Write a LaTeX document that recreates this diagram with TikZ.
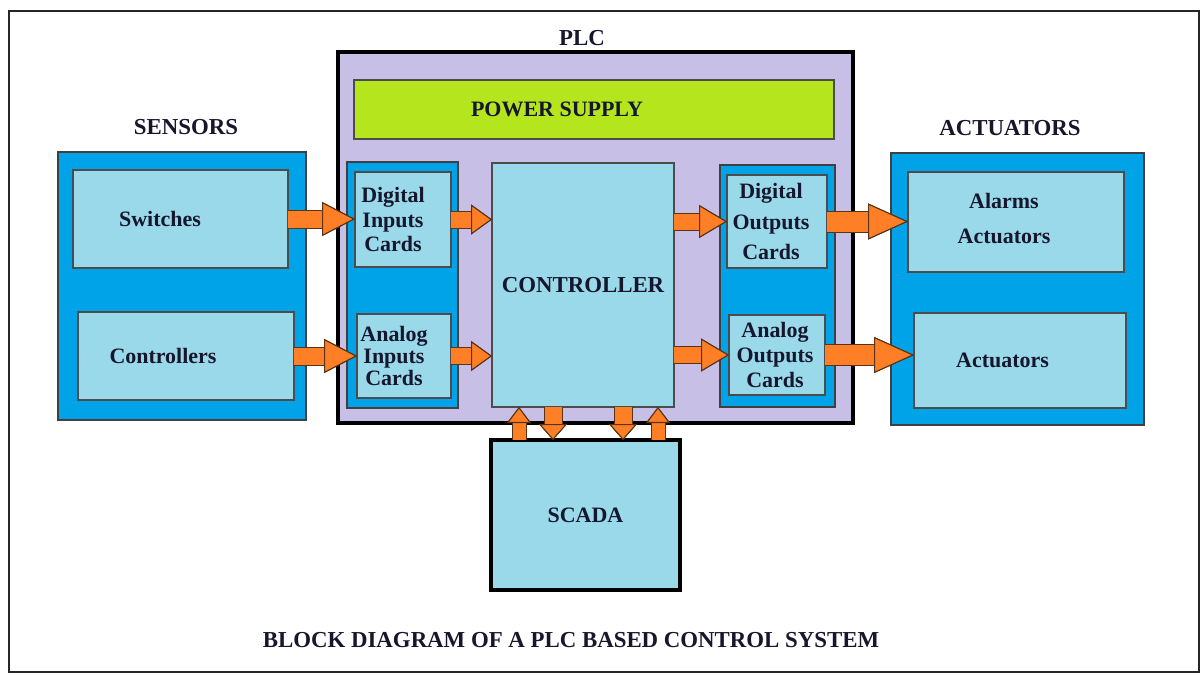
\documentclass[tikz,border=0pt]{standalone}
\usepackage{fontspec}
\setmainfont{Liberation Serif}
\usetikzlibrary{arrows.meta, positioning}

\definecolor{plclav}{RGB}{200,191,231}
\definecolor{grpblue}{RGB}{0,162,232}
\definecolor{cardblue}{RGB}{153,217,234}
\definecolor{psgreen}{RGB}{181,230,29}
\definecolor{arrorange}{RGB}{255,127,39}
\definecolor{arredge}{RGB}{90,50,20}
\definecolor{inkcol}{RGB}{22,22,45}

\tikzset{
        box/.style = {rectangle, anchor=north west, inner sep=0pt, outer sep=0pt},
        group/.style = {box, draw=black!75, fill=grpblue, line width=0.6pt},
        card/.style = {box, draw=black!70, fill=cardblue, line width=0.9pt},
        txt/.style = {font=\bfseries\fontsize{12.5}{14}\selectfont, text=inkcol, align=center},
        title/.style = {font=\bfseries\fontsize{13}{15}\selectfont, text=inkcol},
        blockarrow/.style n args = {4}{draw=arrorange, line width=#1,
            -{Triangle[length=#3, width=#4, line width=0.6pt, fill=arrorange, color=arredge]},
            preaction={draw=arredge, line width=#2,
                -{Triangle[length=#3, width=#4, line width=0.6pt, fill=arrorange, color=arredge]}}},
        inarrow/.style = {blockarrow={0.34cm}{0.38cm}{0.66cm}{0.68cm}},
        cardarrow/.style = {blockarrow={0.32cm}{0.36cm}{0.42cm}{0.6cm}},
        ctrlarrow/.style = {blockarrow={0.32cm}{0.36cm}{0.56cm}{0.66cm}},
        outarrow/.style = {blockarrow={0.4cm}{0.44cm}{0.8cm}{0.72cm}},
        uparrow/.style = {blockarrow={0.26cm}{0.3cm}{0.32cm}{0.48cm}},
        downarrow/.style = {blockarrow={0.34cm}{0.38cm}{0.32cm}{0.56cm}},
}

\begin{document}
\begin{tikzpicture}
\useasboundingbox (0,0) rectangle (24.04,-13.5);
\draw [line width=1.6pt, draw=black!85] (0.18,-0.22) rectangle (23.98,-13.44);

% PLC
\node [box, draw=black, line width=1.8pt, fill=plclav,
    minimum width=10.3cm, minimum height=7.42cm] (plc) at (6.76,-1.04) {};
\node [title] (plcname) at (11.64,-0.76) {PLC};
\node [box, draw=black!70, fill=psgreen, line width=0.6pt,
    minimum width=9.6cm, minimum height=1.18cm,
    label={[txt, xshift=-0.74cm]center:POWER SUPPLY}] (psu) at (7.08,-1.6) {};

% sensors
\node [title] (senstitle) at (3.72,-2.54) {SENSORS};
\node [group, minimum width=4.96cm, minimum height=5.36cm] (sens) at (1.16,-3.04) {};
\node [card, minimum width=4.3cm, minimum height=1.96cm,
    label={[txt, xshift=-0.41cm]center:Switches}] (sw) at (1.46,-3.4) {};
\node [card, minimum width=4.32cm, minimum height=1.76cm,
    label={[txt, xshift=-0.46cm]center:Controllers}] (ctl) at (1.56,-6.24) {};

% input cards
\node [group, minimum width=2.22cm, minimum height=4.92cm] (ins) at (6.94,-3.24) {};
\node [card, minimum width=1.92cm, minimum height=1.9cm,
    label={[txt, xshift=-0.2cm]center:{Digital\\Inputs\\Cards}}] (din) at (7.1,-3.44) {};
\node [card, minimum width=1.88cm, minimum height=1.68cm,
    label={[txt, xshift=-0.2cm, font=\bfseries\fontsize{12.5}{12.5}\selectfont]center:{Analog\\Inputs\\Cards}}] (ain) at (7.14,-6.28) {};

% controller
\node [card, minimum width=3.64cm, minimum height=4.88cm, txt,
    font=\bfseries\fontsize{13}{15}\selectfont] (ctrl) at (9.84,-3.26) {CONTROLLER};

% output cards
\node [group, minimum width=2.3cm, minimum height=4.84cm] (outs) at (14.4,-3.3) {};
\node [card, minimum width=2.0cm, minimum height=1.86cm,
    label={[txt, xshift=-0.12cm, font=\bfseries\fontsize{12.5}{17.5}\selectfont]center:{Digital\\Outputs\\Cards}}] (dout) at (14.54,-3.5) {};
\node [card, minimum width=1.92cm, minimum height=1.6cm,
    label={[txt, xshift=-0.04cm]center:{Analog\\Outputs\\Cards}}] (aout) at (14.58,-6.3) {};

% actuators
\node [title] (acttitle) at (20.2,-2.56) {ACTUATORS};
\node [group, minimum width=5.06cm, minimum height=5.44cm] (acts) at (17.82,-3.06) {};
\node [card, minimum width=4.32cm, minimum height=2.0cm,
    label={[txt, xshift=-0.24cm, yshift=0.07cm, font=\bfseries\fontsize{12.5}{20}\selectfont]center:{Alarms\\Actuators}}] (alarm) at (18.16,-3.44) {};
\node [card, minimum width=4.24cm, minimum height=1.9cm,
    label={[txt, xshift=-0.35cm]center:Actuators}] (act) at (18.28,-6.26) {};

% scada
\node [card, draw=black, line width=1.8pt, minimum width=3.78cm, minimum height=3.0cm,
    txt] (scada) at (9.82,-8.8) {SCADA};

\node [title] (caption) at (11.42,-12.8) {BLOCK DIAGRAM OF A PLC BASED CONTROL SYSTEM};

% arrows
\draw [inarrow] (sw.east) -- (sw.east -| din.west);
\draw [inarrow] (ctl.east) -- (ctl.east -| ain.west);
\draw [cardarrow] (din.east) -- (din.east -| ctrl.west);
\draw [cardarrow] (ain.east) -- (ain.east -| ctrl.west);
\draw [ctrlarrow] (dout.west -| ctrl.east) -- (dout.west);
\draw [ctrlarrow] (aout.west -| ctrl.east) -- (aout.west);
\draw [outarrow] (dout.east) -- (dout.east -| alarm.west);
\draw [outarrow] (aout.east) -- (aout.east -| act.west);
\draw [uparrow] ([xshift=0.56cm]scada.north west) -- ([xshift=0.56cm]scada.north west |- ctrl.south);
\draw [downarrow] ([xshift=1.24cm]scada.north west |- ctrl.south) -- ([xshift=1.24cm]scada.north west);
\draw [downarrow] ([xshift=2.64cm]scada.north west |- ctrl.south) -- ([xshift=2.64cm]scada.north west);
\draw [uparrow] ([xshift=3.34cm]scada.north west) -- ([xshift=3.34cm]scada.north west |- ctrl.south);
\end{tikzpicture}
\end{document}
